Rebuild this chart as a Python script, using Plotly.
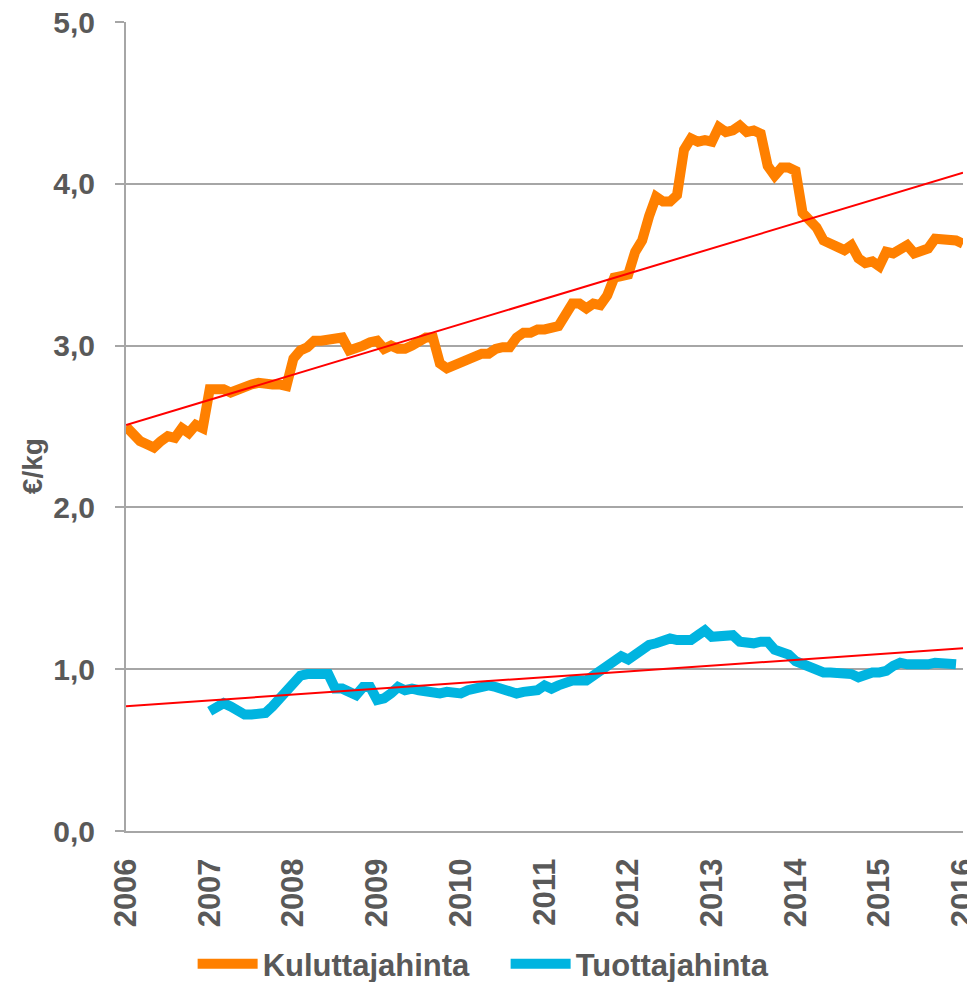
import numpy as np
import plotly.graph_objects as go

# Monthly data, Jan 2006 .. Jan 2016 (index 0 = Jan 2006)
kuluttaja = [
    2.50, 2.45, 2.41, 2.39, 2.37, 2.41, 2.44, 2.43, 2.49, 2.46, 2.51, 2.49,
    2.73, 2.73, 2.73, 2.71, 2.73, 2.75, 2.76, 2.77, 2.76, 2.76, 2.76, 2.75,
    2.92, 2.97, 2.99, 3.03, 3.03, 3.04, 3.05, 3.05, 2.97, 2.98, 3.00, 3.02,
    3.03, 2.98, 3.00, 2.98, 2.98, 3.00, 3.02, 3.05, 3.05, 2.89, 2.86, 2.88,
    2.90, 2.92, 2.94, 2.95, 2.95, 2.98, 2.99, 2.99, 3.05, 3.08, 3.08, 3.10,
    3.10, 3.11, 3.12, 3.19, 3.26, 3.26, 3.23, 3.26, 3.25, 3.31, 3.42, 3.43,
    3.44, 3.58, 3.65, 3.80, 3.92, 3.89, 3.89, 3.93, 4.21, 4.28, 4.26, 4.27,
    4.26, 4.35, 4.32, 4.33, 4.36, 4.32, 4.33, 4.31, 4.11, 4.05, 4.10, 4.10,
    4.08, 3.82, 3.78, 3.73, 3.65, 3.63, 3.61, 3.59, 3.62, 3.54, 3.51, 3.52,
    3.49, 3.58, 3.57, 3.60, 3.62, 3.57, 3.59, 3.60, 3.66, 3.66, 3.65, 3.65,
    3.63,
]

# Monthly data, Jan 2007 .. Dec 2015
tuottaja = [
    0.74, 0.77, 0.79, 0.77, 0.74, 0.72, 0.72, 0.72, 0.73, 0.77, 0.82, 0.85,
    0.92, 0.96, 0.97, 0.97, 0.97, 0.97, 0.88, 0.88, 0.86, 0.84, 0.89, 0.89,
    0.81, 0.82, 0.85, 0.89, 0.87, 0.88, 0.87, 0.86, 0.86, 0.85, 0.86, 0.86,
    0.85, 0.87, 0.88, 0.89, 0.90, 0.89, 0.88, 0.86, 0.85, 0.86, 0.87, 0.87,
    0.90, 0.88, 0.90, 0.92, 0.93, 0.93, 0.93, 0.96, 0.99, 1.01, 1.05, 1.08,
    1.06, 1.09, 1.13, 1.15, 1.16, 1.18, 1.19, 1.18, 1.18, 1.18, 1.21, 1.24,
    1.20, 1.20, 1.21, 1.21, 1.17, 1.16, 1.16, 1.17, 1.17, 1.12, 1.10, 1.09,
    1.05, 1.03, 1.01, 0.99, 0.98, 0.98, 0.98, 0.97, 0.97, 0.95, 0.97, 0.98,
    0.98, 0.99, 1.02, 1.04, 1.03, 1.03, 1.02, 1.03, 1.04, 1.04, 1.03, 1.03,
]

years = list(range(2006, 2017))
x_k = [2006 + i / 12 for i in range(len(kuluttaja))]
x_t = [2007 + i / 12 for i in range(len(tuottaja))]

# Linear trend lines (least-squares fits), drawn across the whole axis
pk = np.polyfit(x_k, kuluttaja, 1)
pt = np.polyfit(x_t, tuottaja, 1)
x_trend = [2006, 2016]

ORANGE = "#FF8000"
BLUE = "#00B4E0"
GREY = "#A6A6A6"
TXT = "#595959"
FONT = "Liberation Sans"

fig = go.Figure()
fig.add_trace(go.Scatter(x=x_k, y=kuluttaja, mode="lines", name="Kuluttajahinta",
                         line=dict(color=ORANGE, width=10)))
fig.add_trace(go.Scatter(x=x_t, y=tuottaja, mode="lines", name="Tuottajahinta",
                         line=dict(color=BLUE, width=10)))
fig.add_trace(go.Scatter(x=x_trend, y=list(np.polyval(pk, x_trend)), mode="lines",
                         showlegend=False, line=dict(color="#FF0000", width=2)))
fig.add_trace(go.Scatter(x=x_trend, y=list(np.polyval(pt, x_trend)), mode="lines",
                         showlegend=False, line=dict(color="#FF0000", width=2)))

fig.add_annotation(text="<b>€/kg</b>", xref="paper", yref="paper",
                   x=-0.1123, y=0.451, textangle=-90, showarrow=False,
                   xanchor="center", yanchor="middle",
                   font=dict(family=FONT, size=28, color=TXT))

fig.update_layout(
    width=975, height=982,
    margin=dict(l=118, r=20, t=14, b=159, autoexpand=False),
    paper_bgcolor="white", plot_bgcolor="white",
    separators=", ",
    font=dict(family=FONT, size=28, color=TXT),
    showlegend=True,
    legend=dict(orientation="h", xref="paper", yref="container",
                x=0.0796, xanchor="left", y=0.0265, yanchor="middle",
                font=dict(family=FONT, size=31, color=TXT, weight="bold"),
                itemwidth=60, entrywidth=238, entrywidthmode="pixels",
                tracegroupgap=0),
    xaxis=dict(range=[2006, 2016], tickvals=years, ticktext=[str(y) for y in years],
               tickangle=-90, showgrid=False, zeroline=False, automargin=False,
               showline=True, linecolor=GREY, linewidth=2,
               ticks="", ticklabelstandoff=13, ticklabeloverflow="allow",
               tickfont=dict(family=FONT, size=31, color=TXT, weight="bold")),
    yaxis=dict(range=[0, 5], dtick=1, tickformat=".1f", showgrid=True, automargin=False,
               gridcolor=GREY, gridwidth=2, zeroline=False,
               showline=True, linecolor=GREY, linewidth=2,
               ticks="outside", ticklen=9, tickcolor=GREY, tickwidth=2,
               ticklabelstandoff=14, ticklabeloverflow="allow",
               tickfont=dict(family=FONT, size=30, color=TXT, weight="bold")),
)

fig.write_html("out.html")
